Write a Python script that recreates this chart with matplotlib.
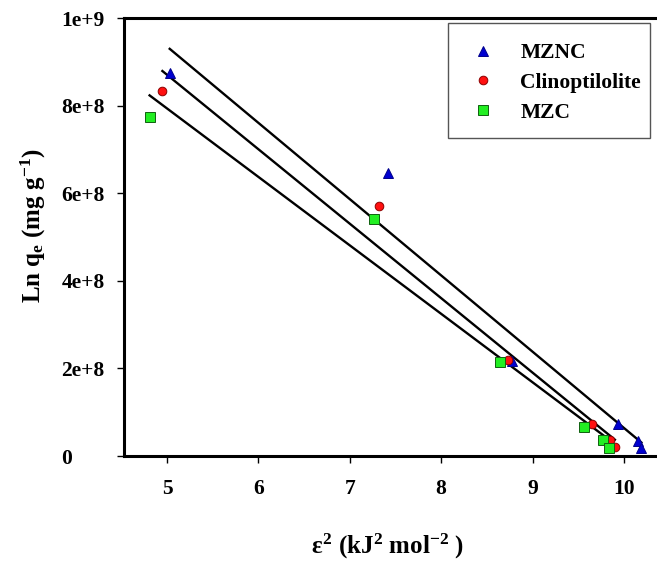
import numpy as np
import matplotlib
matplotlib.use("Agg")
import matplotlib.pyplot as plt
from matplotlib.patches import Rectangle

# Data
mznc_x = [5.03, 7.42, 8.78, 9.93, 10.15, 10.19]
mznc_y = [8.74e8, 6.47e8, 2.18e8, 0.73e8, 0.34e8, 0.18e8]
clino_x = [4.95, 7.32, 8.73, 9.65, 9.85, 9.90]
clino_y = [8.34e8, 5.71e8, 2.19e8, 0.72e8, 0.37e8, 0.21e8]
mzc_x = [4.81, 7.27, 8.64, 9.56, 9.77, 9.84]
mzc_y = [7.75e8, 5.40e8, 2.14e8, 0.67e8, 0.37e8, 0.19e8]

x_ticks = [5, 6, 7, 8, 9, 10]
y_ticks = [0, 2e8, 4e8, 6e8, 8e8, 1e9]
y_tick_labels = ["0", "2e+8", "4e+8", "6e+8", "8e+8", "1e+9"]

plt.rcParams['font.family'] = ['Liberation Serif', 'DejaVu Serif']
plt.rcParams['mathtext.fontset'] = 'custom'
plt.rcParams['mathtext.rm'] = 'Liberation Serif:bold'
plt.rcParams['mathtext.it'] = 'Liberation Serif:bold'
plt.rcParams['mathtext.bf'] = 'Liberation Serif:bold'
plt.rcParams['xtick.major.pad'] = 11.5
plt.rcParams['ytick.major.pad'] = 40
plt.rcParams['xtick.major.size'] = 5
plt.rcParams['ytick.major.size'] = 5

W, H = 657, 564
fig = plt.figure(figsize=(W / 100, H / 100), dpi=100)
left, bottom, top = 124 / W, (H - 456) / H, (H - 18) / H
ax = fig.add_axes([left, bottom, 1 - left, top - bottom])

series = [
    ("MZNC", mznc_x, mznc_y, "^", "#0000D0", "#00008B", 7.5),
    ("Clinoptilolite", clino_x, clino_y, "o", "#FF1010", "#8B0000", 6.2),
    ("MZC", mzc_x, mzc_y, "s", "#22EE22", "#106010", 6.7),
]

# regression lines first
for name, xs, ys, m, fc, ec, ms in series:
    xs_a = np.array(xs)
    ys_a = np.array(ys)
    k, b = np.polyfit(xs_a, ys_a, 1)
    xx = np.array([xs_a.min(), xs_a.max()])
    ax.plot(xx, k * xx + b, color="black", lw=1.7, zorder=2)

handles = []
for name, xs, ys, m, fc, ec, ms in series:
    h, = ax.plot(xs, ys, linestyle="none", marker=m, markersize=ms,
                 markerfacecolor=fc, markeredgecolor=ec, markeredgewidth=0.7,
                 label=name, zorder=3)
    handles.append(h)

ax.set_xlim(4.530, 10.361)
ax.set_ylim(0, 1e9)
ax.set_xticks(x_ticks)
ax.set_xticklabels([str(t) for t in x_ticks])
ax.set_yticks(y_ticks)
ax.set_yticklabels(y_tick_labels)

for lab in ax.get_xticklabels() + ax.get_yticklabels():
    lab.set_fontweight("bold")
    lab.set_fontsize(15.5)
for lab in ax.get_yticklabels():
    lab.set_horizontalalignment("left")

ax.tick_params(axis="both", direction="out", width=1, colors="black")

ax.spines["right"].set_visible(False)
for s in ["left", "bottom", "top"]:
    ax.spines[s].set_linewidth(2.2)

fig.text(388 / W, 1 - 546 / H, r"$\epsilon^2$ (kJ$^2$ mol$^{-2}$ )", ha="center", va="center",
         fontsize=18, fontweight="bold")
fig.text(33 / W, 1 - 226 / H, r"Ln q$_\mathrm{e}$ (mg g$^{-1}$)", ha="center", va="center",
         rotation=90, fontsize=18, fontweight="bold")

# legend frame drawn manually
frame = Rectangle((448 / W, 1 - 138 / H), (650 - 448) / W, (138 - 23) / H,
                  transform=fig.transFigure, facecolor="white",
                  edgecolor="#555555", linewidth=1.0, zorder=5, clip_on=False)
ax.add_patch(frame)
leg = ax.legend(handles=handles, loc="upper left",
                bbox_to_anchor=(472 / W, 1 - 43 / H), bbox_transform=fig.transFigure,
                borderaxespad=0, borderpad=0, frameon=False,
                prop={"family": "Liberation Serif", "weight": "bold", "size": 15.5},
                handlelength=1.0, handletextpad=1.25, labelspacing=0.45)
leg.set_zorder(6)

fig.savefig("out.png", dpi=100)
